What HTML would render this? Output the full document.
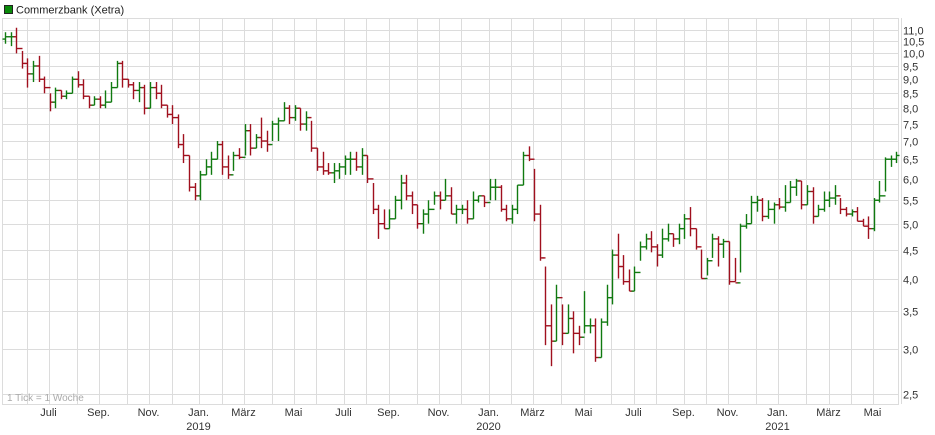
<!DOCTYPE html>
<html><head><meta charset="utf-8"><style>
body{margin:0;background:#fff;font-family:"Liberation Sans",sans-serif;}
svg{display:block}
</style></head><body>
<svg id="chart" width="935" height="435" xmlns="http://www.w3.org/2000/svg"></svg>
<script>
const highs=[10.9,10.9,11.1,10.1,9.8,9.7,9.9,9.1,8.5,8.7,8.6,8.6,9.1,9.3,9.0,8.4,8.4,8.4,8.6,8.9,9.7,9.7,9.0,8.9,8.9,8.8,8.9,8.9,8.8,8.1,8.1,7.8,7.2,6.6,5.9,6.2,6.5,6.7,7.0,7.0,6.6,6.7,6.8,7.5,7.5,7.2,7.7,7.3,7.6,7.7,8.2,8.1,8.1,8.0,7.9,7.6,6.8,6.7,6.4,6.4,6.4,6.6,6.7,6.7,6.8,6.6,5.9,5.4,5.3,5.3,5.6,6.1,6.1,5.7,5.4,5.3,5.5,5.7,5.7,6.0,5.8,5.4,5.4,5.5,5.7,5.6,5.6,6.0,6.0,5.85,5.4,5.4,5.85,6.7,6.85,6.25,5.4,4.2,3.6,3.9,3.6,3.6,3.5,3.3,3.8,3.4,3.4,3.4,3.9,4.5,4.8,4.4,4.15,4.2,4.65,4.8,4.85,4.6,4.9,5.0,4.8,5.0,5.2,5.35,4.9,4.5,4.35,4.8,4.75,4.7,4.65,4.35,5.0,5.2,5.6,5.6,5.55,5.5,5.45,5.55,5.85,5.95,6.0,5.95,5.85,5.8,5.4,5.7,5.7,5.85,5.55,5.35,5.3,5.35,5.1,5.15,5.55,5.95,6.55,6.6,6.7];
const lows=[10.4,10.3,10.0,9.4,8.7,8.9,8.9,8.5,7.9,8.0,8.3,8.3,8.5,8.7,8.3,8.0,8.1,8.0,8.0,8.2,8.7,8.7,8.7,8.3,8.2,7.8,8.0,8.3,8.0,7.7,7.5,6.8,6.4,5.7,5.5,5.5,6.1,6.1,6.5,6.1,6.0,6.2,6.5,6.6,6.6,6.8,6.8,6.7,7.0,7.0,7.6,7.5,7.6,7.3,7.3,6.7,6.2,6.1,6.1,5.9,6.0,6.1,6.1,6.2,6.1,5.9,5.2,4.7,4.9,4.9,5.1,5.3,5.5,5.2,4.9,4.8,5.0,5.4,5.3,5.5,5.2,5.0,5.2,5.0,5.1,5.45,5.35,5.5,5.5,5.25,5.05,5.0,5.2,5.85,6.45,5.05,4.3,3.05,2.8,3.1,3.05,3.2,2.95,3.05,3.2,3.2,2.85,2.9,3.3,3.6,4.0,3.9,3.8,3.8,4.3,4.5,4.45,4.2,4.35,4.65,4.55,4.6,4.7,4.75,4.5,4.0,4.05,4.35,4.2,4.35,3.9,3.95,4.1,4.9,5.0,5.25,5.05,5.1,5.0,5.3,5.25,5.45,5.6,5.3,5.4,5.0,5.15,5.25,5.35,5.4,5.2,5.15,5.15,5.05,4.95,4.7,4.85,5.45,5.7,6.3,6.4];
const closes=[10.7,10.7,10.2,9.6,9.2,9.5,9.0,8.7,8.2,8.6,8.4,8.5,9.0,8.8,8.4,8.1,8.3,8.1,8.2,8.7,9.6,9.0,8.8,8.6,8.7,8.0,8.7,8.5,8.1,7.8,7.7,6.9,6.6,5.8,5.6,6.1,6.3,6.5,6.9,6.3,6.1,6.6,6.55,7.3,6.8,7.1,7.0,6.9,7.5,7.6,8.0,7.7,8.0,7.5,7.7,6.8,6.3,6.2,6.15,6.2,6.3,6.5,6.5,6.3,6.6,6.0,5.3,5.0,4.9,5.1,5.5,5.9,5.6,5.4,5.0,5.2,5.3,5.6,5.5,5.6,5.2,5.3,5.3,5.1,5.5,5.6,5.45,5.8,5.8,5.3,5.1,5.3,5.85,6.6,6.5,5.2,4.35,3.3,3.1,3.7,3.2,3.4,3.2,3.15,3.3,3.3,2.9,3.35,3.7,4.4,4.2,3.95,3.8,4.1,4.55,4.7,4.55,4.4,4.7,4.8,4.7,4.9,5.1,4.9,4.55,4.0,4.3,4.7,4.6,4.65,3.95,3.93,4.95,5.0,5.45,5.5,5.15,5.3,5.4,5.35,5.45,5.8,5.95,5.4,5.7,5.15,5.3,5.5,5.55,5.6,5.3,5.2,5.25,5.05,4.95,4.9,5.5,5.6,6.5,6.5,6.6];
const firstOpen=10.6;
const yTicks=[2.5,3.0,3.5,4.0,4.5,5.0,5.5,6.0,6.5,7.0,7.5,8.0,8.5,9.0,9.5,10.0,10.5,11.0];
const monthNames=["Jan.","Feb.","März","Apr.","Mai","Juni","Juli","Aug.","Sep.","Okt.","Nov.","Dez."];

const NS="http://www.w3.org/2000/svg";
const svg=document.getElementById('chart');
const X0=5.2,S=5.568,L=2,R=898,T=18,B=404;
function xs(k){return X0+k*S;}
function ys(v){return 394-245.7*Math.log(v/2.5);}
function mk(tag,attrs,parent){const e=document.createElementNS(NS,tag);for(const a in attrs)e.setAttribute(a,attrs[a]);(parent||svg).appendChild(e);return e;}

const grid=mk('g',{});


yTicks.forEach(v=>{
  const y=Math.round(ys(v))+0.5;
  const ln=mk('line',{x1:L,x2:R,y1:y,y2:y,stroke:'#dcdcdc','stroke-width':1},grid);
  
  
  const t=mk('text',{x:903,y:y+4,'font-size':11,fill:'#333'});
  t.textContent=v.toFixed(1).replace('.',',');
  
  
});
// month gridlines
const start=new Date(Date.UTC(2018,4,7));
let lastMonth=-1;
for(let k=0;k<closes.length;k++){
  const mon=new Date(start.getTime()+k*7*86400000);
  const sun=new Date(mon.getTime()+6*86400000);
  if(sun.getUTCDate()<=7 && sun.getUTCMonth()!==lastMonth){
    lastMonth=sun.getUTCMonth();
    const x=Math.round(X0+(k+1)*S-0.7)+0.5;
    const ln=mk('line',{x1:x,x2:x,y1:T,y2:B,stroke:'#dcdcdc','stroke-width':1},grid);
    
    
    const m=sun.getUTCMonth();
    if(m%2===0){
      const t=mk('text',{x:x-1,y:416,'font-size':11,fill:'#333','text-anchor':'middle'});
      t.textContent=monthNames[m];
      
      
      if(m===0){
        const t2=mk('text',{x:x-1,y:430,'font-size':11,fill:'#333','text-anchor':'middle'});
        t2.textContent=String(sun.getUTCFullYear());
        
        
      }
    }
  }
}
const fr=mk('rect',{x:L+0.5,y:T+0.5,width:R-L,height:B-T,fill:'none',stroke:'#dcdcdc'});



const bars=mk('g',{});


for(let k=0;k<closes.length;k++){
  const o=k===0?firstOpen:closes[k-1];
  const c=closes[k];
  const col=c>=o?'#107a10':'#a0101e';
  const x=Math.round(xs(k))+0.5;
  const g=mk('g',{stroke:col,'stroke-width':1.4},bars);
  
  
  mk('line',{x1:x,x2:x,y1:ys(highs[k]),y2:ys(lows[k])},g);
  mk('line',{x1:x-3,x2:x,y1:ys(o),y2:ys(o)},g);
  mk('line',{x1:x,x2:x+3,y1:ys(c),y2:ys(c)},g);
}

const lg=mk('g',{});


const sw=mk('rect',{x:4.5,y:5.5,width:8,height:8,fill:'#0a8a0a',stroke:'#222'},lg);


const lt=mk('text',{x:16,y:13.5,'font-size':11,fill:'#222'},lg);
lt.textContent='Commerzbank (Xetra)';



const note=mk('text',{x:7,y:401,'font-size':10,fill:'#aaa'});
note.textContent='1 Tick = 1 Woche';


</script>
</body></html>
